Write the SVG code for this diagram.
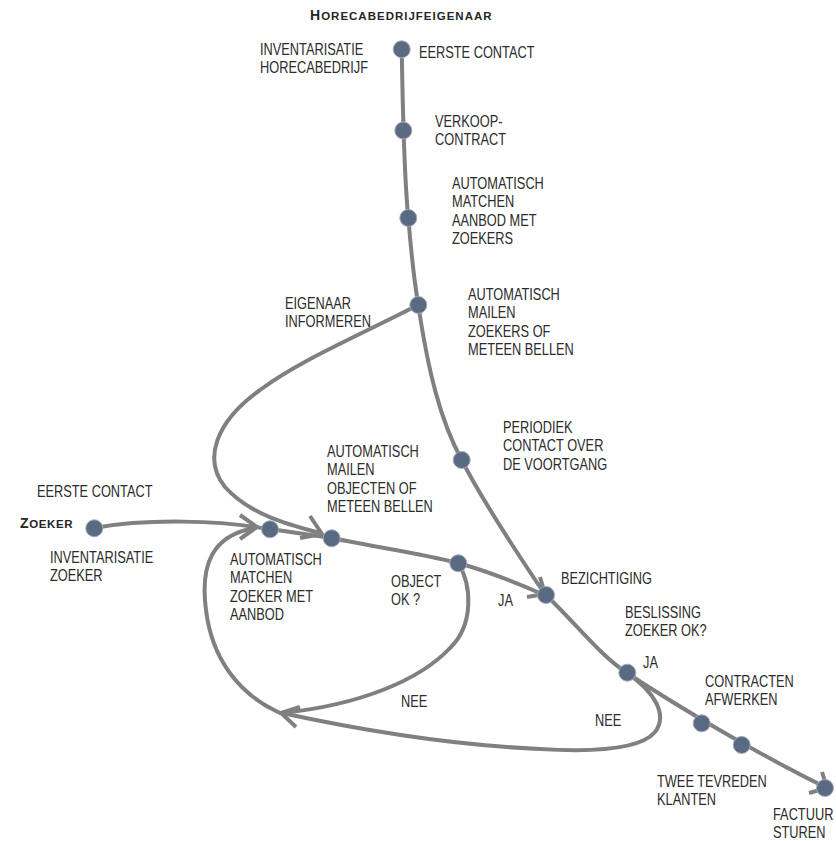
<svg xmlns="http://www.w3.org/2000/svg" width="836" height="841" viewBox="0 0 836 841">
<style>
.ln{fill:none;stroke:#808080;stroke-width:4;stroke-linecap:round;stroke-linejoin:round}
.ah{fill:none;stroke:#808080;stroke-width:4;stroke-linecap:butt;stroke-linejoin:miter}
.nd{fill:#5b6a83;stroke:#a3abb8;stroke-width:1}
.t{font-family:"Liberation Sans",Arial,sans-serif;font-size:16px;fill:#2b2b2b}
.h{font-family:"Liberation Sans",Arial,sans-serif;font-weight:bold;fill:#262626}
</style>
<rect width="836" height="841" fill="#ffffff"/>
<g id="connectors">
<path class="ln" d="M401.7,49.3 C402.5,90 403.5,170 408.3,218 C411,250 414,280 418.3,305 C428,370 440,420 461.7,460 C482,500 515,550 544,593"/>
<path class="ln" d="M546,595 C580,628 600,655 627,673 C680,708 760,755 823,786"/>
<path class="ln" d="M94,528 C150,518 220,521 262,528"/>
<path class="ln" d="M270,529 L331.7,538 C380,548 420,553 458,563 C490,572 515,582 542,594"/>
<path class="ln" d="M418,305 C360,335 300,360 260,390 C215,422 203,460 225,487 C250,515 290,525 320,533"/>
<path class="ln" d="M458,563 C472,585 474,625 450,648 C420,680 360,705 282,713"/>
<path class="ln" d="M627,673 C655,692 668,715 655,732 C640,750 590,752 540,749 C450,745 360,730 282,713"/>
<path class="ln" d="M280,713 C240,695 212,660 206,610 C200,565 212,535 255,528"/>
<path class="ah" d="M240,515 L257,527 L240,539"/>
<path class="ah" d="M310,516 L322,534 L300,538"/>
<path class="ah" d="M540,577 L545,594 L527,597"/>
<path class="ah" d="M300,707 L281,713 L296,727"/>
<path class="ah" d="M822,772 L827,788 L809,793"/>
<text class="t" transform="matrix(0.8,0,0,1,391,587)">OBJECT</text>
<text class="t" transform="matrix(0.8,0,0,1,391,605)">OK ?</text>
<text class="t" transform="matrix(0.8,0,0,1,498,606)">JA</text>
<text class="t" transform="matrix(0.8,0,0,1,401,707)">NEE</text>
<text class="t" transform="matrix(0.8,0,0,1,643,668)">JA</text>
<text class="t" transform="matrix(0.8,0,0,1,595,726)">NEE</text>
</g>
<text class="h" x="310" y="20" font-size="11.5" letter-spacing="1"><tspan font-size="14">H</tspan>ORECABEDRIJFEIGENAAR</text>
<text class="h" x="20" y="528" font-size="11.5" letter-spacing="0.6"><tspan font-size="14">Z</tspan>OEKER</text>
<g id="node-eerste-contact-eigenaar">
<circle class="nd" cx="401.7" cy="49.3" r="8.5"/>
<text class="t" transform="matrix(0.8,0,0,1,419,58)">EERSTE CONTACT</text>
<text class="t" transform="matrix(0.8,0,0,1,260,55)">INVENTARISATIE</text>
<text class="t" transform="matrix(0.8,0,0,1,260,73)">HORECABEDRIJF</text>
</g>
<g id="node-verkoopcontract">
<circle class="nd" cx="403.3" cy="130.5" r="8.5"/>
<text class="t" transform="matrix(0.8,0,0,1,435,127)">VERKOOP-</text>
<text class="t" transform="matrix(0.8,0,0,1,435,145)">CONTRACT</text>
</g>
<g id="node-matchen-aanbod">
<circle class="nd" cx="408.3" cy="218" r="8.5"/>
<text class="t" transform="matrix(0.8,0,0,1,452,189)">AUTOMATISCH</text>
<text class="t" transform="matrix(0.8,0,0,1,452,207)">MATCHEN</text>
<text class="t" transform="matrix(0.8,0,0,1,452,226)">AANBOD MET</text>
<text class="t" transform="matrix(0.8,0,0,1,452,244)">ZOEKERS</text>
</g>
<g id="node-mailen-zoekers">
<circle class="nd" cx="418.3" cy="305" r="8.5"/>
<text class="t" transform="matrix(0.8,0,0,1,468,300)">AUTOMATISCH</text>
<text class="t" transform="matrix(0.8,0,0,1,468,318)">MAILEN</text>
<text class="t" transform="matrix(0.8,0,0,1,468,337)">ZOEKERS OF</text>
<text class="t" transform="matrix(0.8,0,0,1,468,355)">METEEN BELLEN</text>
<text class="t" transform="matrix(0.8,0,0,1,285,309)">EIGENAAR</text>
<text class="t" transform="matrix(0.8,0,0,1,285,327)">INFORMEREN</text>
</g>
<g id="node-periodiek-contact">
<circle class="nd" cx="461.7" cy="460" r="8.5"/>
<text class="t" transform="matrix(0.8,0,0,1,503,433)">PERIODIEK</text>
<text class="t" transform="matrix(0.8,0,0,1,503,451)">CONTACT OVER</text>
<text class="t" transform="matrix(0.8,0,0,1,503,470)">DE VOORTGANG</text>
</g>
<g id="node-zoeker">
<circle class="nd" cx="94.3" cy="528.3" r="8.5"/>
<text class="t" transform="matrix(0.8,0,0,1,37,497)">EERSTE CONTACT</text>
<text class="t" transform="matrix(0.8,0,0,1,50,563)">INVENTARISATIE</text>
<text class="t" transform="matrix(0.8,0,0,1,50,581)">ZOEKER</text>
</g>
<g id="node-matchen-zoeker">
<circle class="nd" cx="270" cy="529.3" r="8.5"/>
<text class="t" transform="matrix(0.8,0,0,1,230,565)">AUTOMATISCH</text>
<text class="t" transform="matrix(0.8,0,0,1,230,583)">MATCHEN</text>
<text class="t" transform="matrix(0.8,0,0,1,230,602)">ZOEKER MET</text>
<text class="t" transform="matrix(0.8,0,0,1,230,620)">AANBOD</text>
</g>
<g id="node-mailen-objecten">
<circle class="nd" cx="331.7" cy="538.3" r="8.5"/>
<text class="t" transform="matrix(0.8,0,0,1,327,457)">AUTOMATISCH</text>
<text class="t" transform="matrix(0.8,0,0,1,327,475)">MAILEN</text>
<text class="t" transform="matrix(0.8,0,0,1,327,494)">OBJECTEN OF</text>
<text class="t" transform="matrix(0.8,0,0,1,327,512)">METEEN BELLEN</text>
</g>
<g id="node-object-ok">
<circle class="nd" cx="458.3" cy="563.3" r="8.5"/>
</g>
<g id="node-bezichtiging">
<circle class="nd" cx="546" cy="595" r="8.5"/>
<text class="t" transform="matrix(0.8,0,0,1,561,584)">BEZICHTIGING</text>
</g>
<g id="node-beslissing">
<circle class="nd" cx="627.3" cy="672.7" r="8.5"/>
<text class="t" transform="matrix(0.8,0,0,1,625,618)">BESLISSING</text>
<text class="t" transform="matrix(0.8,0,0,1,625,636)">ZOEKER OK?</text>
</g>
<g id="node-contracten">
<circle class="nd" cx="701.7" cy="723.3" r="8.5"/>
<text class="t" transform="matrix(0.8,0,0,1,705,687)">CONTRACTEN</text>
<text class="t" transform="matrix(0.8,0,0,1,705,705)">AFWERKEN</text>
</g>
<g id="node-tevreden">
<circle class="nd" cx="741.7" cy="745" r="8.5"/>
<text class="t" transform="matrix(0.8,0,0,1,657,787)">TWEE TEVREDEN</text>
<text class="t" transform="matrix(0.8,0,0,1,657,805)">KLANTEN</text>
</g>
<g id="node-factuur">
<circle class="nd" cx="825" cy="788" r="8.5"/>
<text class="t" transform="matrix(0.8,0,0,1,773,820)">FACTUUR</text>
<text class="t" transform="matrix(0.8,0,0,1,773,838)">STUREN</text>
</g>
</svg>
